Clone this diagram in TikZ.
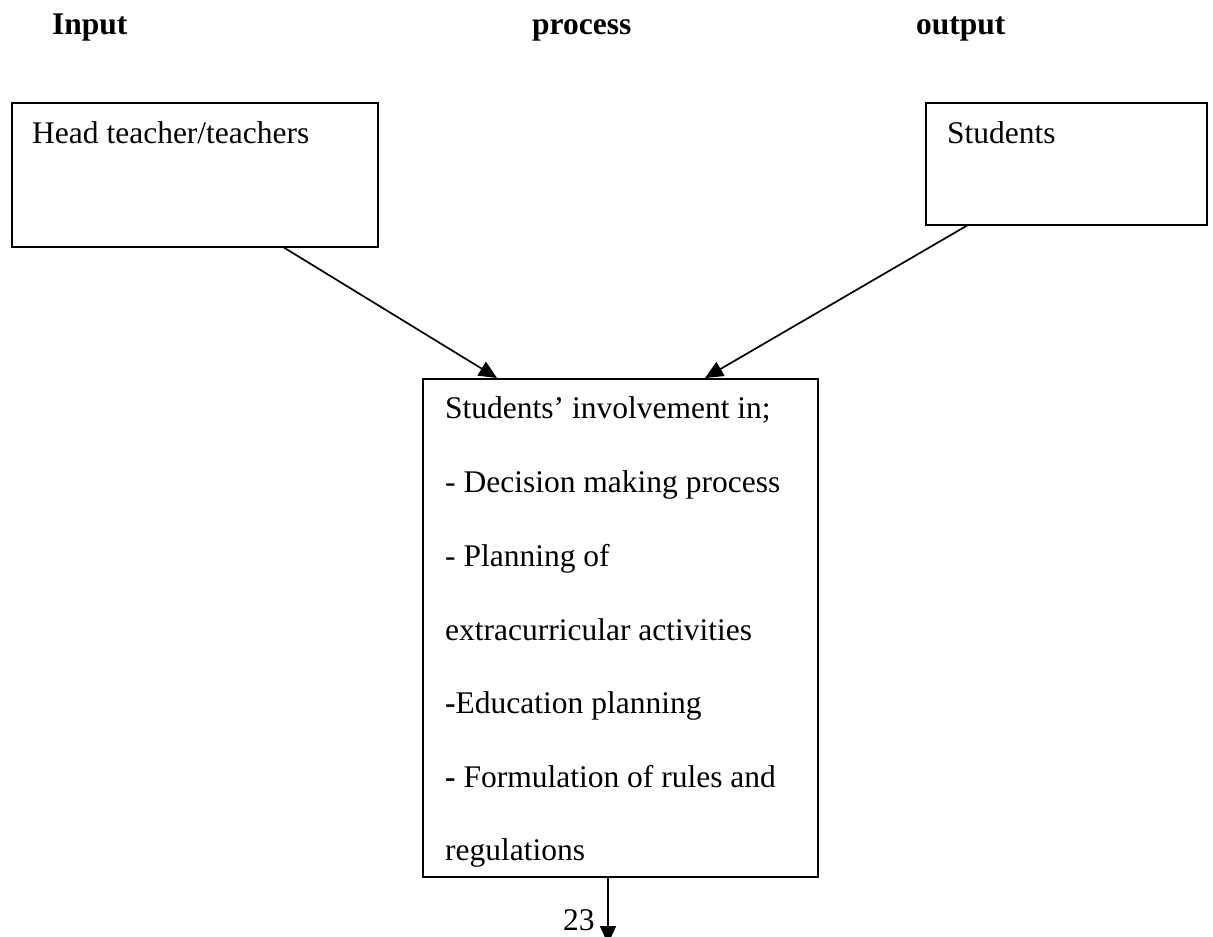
\documentclass[tikz,border=0pt]{standalone}
\usepackage{fontspec}
\setmainfont{Liberation Serif}
\usetikzlibrary{arrows.meta}
\begin{document}
\begin{tikzpicture}[x=1pt,y=-1pt,
  box/.style={draw,line width=1.8pt},
  txt/.style={anchor=base west,inner sep=0pt,font=\fontsize{31.5}{36}\selectfont},
  hdr/.style={anchor=base west,inner sep=0pt,font=\fontsize{31.5}{36}\selectfont\bfseries},
  conn/.style={line width=1.7pt,-{Triangle[length=18pt,width=16pt]}}]
\useasboundingbox (0,0) rectangle (1213,937);
\node[hdr] (in) at (52,34) {Input};
\node[hdr] (pr) at (532,34) {process};
\node[hdr] (out) at (916,34) {output};
\draw[box] (12,103) rectangle (378,247);
\coordinate (b1) at (283,247);
\node[txt] (t1) at (32,143) {Head teacher/teachers};
\draw[box] (926,103) rectangle (1207,225);
\coordinate (b2) at (968,225);
\node[txt] (t2) at (947,143) {Students};
\draw[box] (423,379) rectangle (818,877);
\coordinate (c1) at (497,378);
\coordinate (c2) at (705,378);
\coordinate (c3) at (608,877);
\coordinate (c4) at (608,944);
\node[txt] (l1) at (445,418) {Students’ involvement in;};
\node[txt] (l2) at (445,492) {- Decision making process};
\node[txt] (l3) at (445,566) {- Planning of};
\node[txt] (l4) at (445,640) {extracurricular activities};
\node[txt] (l5) at (445,713) {\textbf{-}Education planning};
\node[txt] (l6) at (445,787) {\textbf{-} Formulation of rules and};
\node[txt] (l7) at (445,860) {regulations};
\node[txt] (pg) at (563,930) {23};
\draw[conn] (b1) -- (c1);
\draw[conn] (b2) -- (c2);
\draw[conn] (c3) -- (c4);
\end{tikzpicture}
\end{document}
